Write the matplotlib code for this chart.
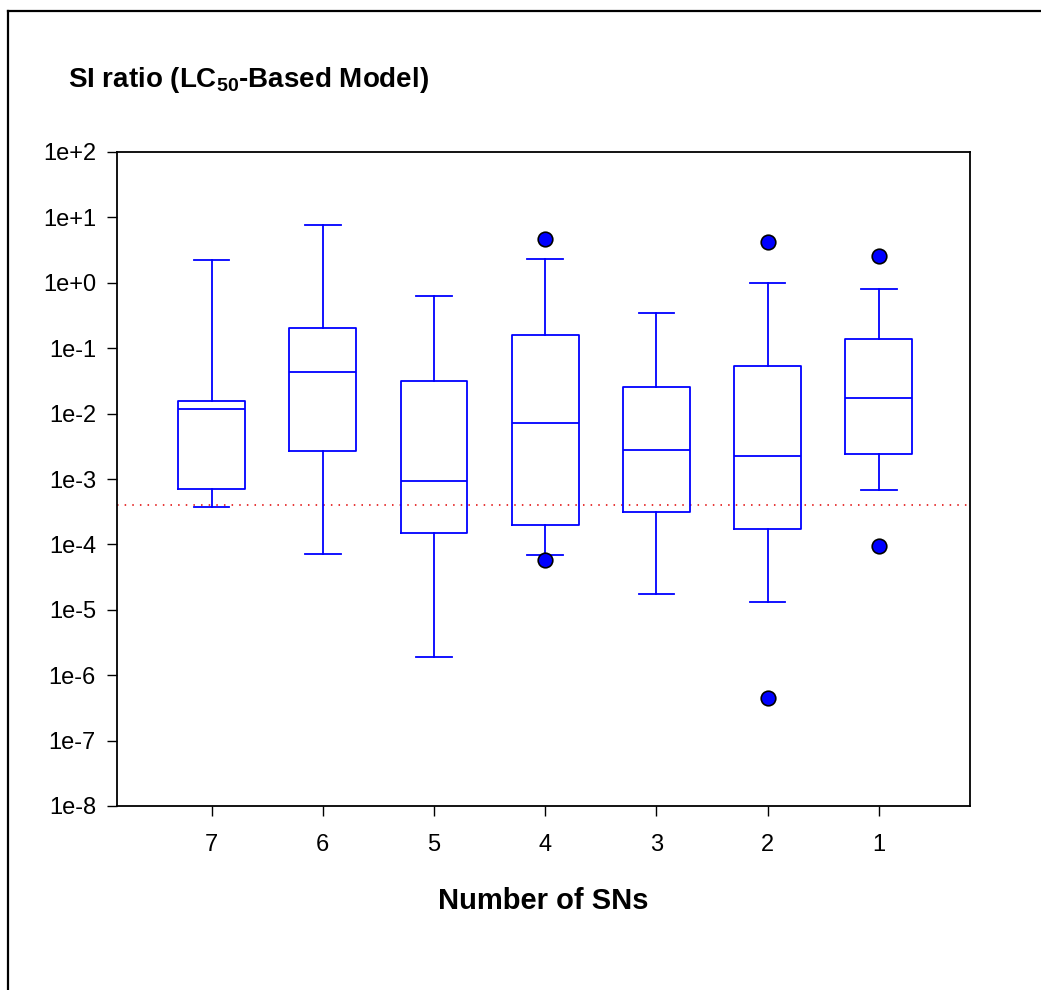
import matplotlib
matplotlib.use("Agg")
import matplotlib.pyplot as plt
from matplotlib.lines import Line2D

plt.rcParams['font.family'] = ['Liberation Sans', 'DejaVu Sans']
plt.rcParams['mathtext.fontset'] = 'custom'
plt.rcParams['mathtext.rm'] = 'Liberation Sans'
plt.rcParams['mathtext.bf'] = 'Liberation Sans:bold'

categories = ["7", "6", "5", "4", "3", "2", "1"]
whislo = [3.78e-4, 7.05e-5, 1.92e-6, 7.0e-5, 1.77e-5, 1.33e-5, 6.79e-4]
q1 = [6.95e-4, 2.71e-3, 1.51e-4, 2.0e-4, 3.13e-4, 1.74e-4, 2.42e-3]
med = [1.19e-2, 4.28e-2, 9.4e-4, 7.26e-3, 2.74e-3, 2.22e-3, 1.75e-2]
q3 = [1.56e-2, 2.01e-1, 3.18e-2, 1.59e-1, 2.58e-2, 5.4e-2, 1.38e-1]
whishi = [2.23, 7.65, 0.635, 2.29, 0.341, 0.99, 0.81]
fliers = [[], [], [], [4.73, 5.77e-5], [], [4.16, 4.43e-7], [2.6, 9.6e-5]]
threshold = 4.0e-4
ytick_vals = [1e-8, 1e-7, 1e-6, 1e-5, 1e-4, 1e-3, 1e-2, 1e-1, 1e0, 1e1, 1e2]
ytick_labels = ["1e-8", "1e-7", "1e-6", "1e-5", "1e-4", "1e-3", "1e-2", "1e-1", "1e+0", "1e+1", "1e+2"]

W, H = 1041, 990
fig = plt.figure(figsize=(W / 100, H / 100), dpi=100)
ax = fig.add_axes([117 / W, 1 - 806 / H, (970 - 117) / W, (806 - 152) / H])

stats = []
for i, c in enumerate(categories):
    stats.append(dict(label=c, whislo=whislo[i], q1=q1[i], med=med[i],
                      q3=q3[i], whishi=whishi[i], fliers=fliers[i]))

positions = list(range(1, len(categories) + 1))
blue = '#0000ff'
lw = 1.3
ax.bxp(stats, positions=positions, widths=0.6, capwidths=0.32,
       boxprops=dict(color=blue, linewidth=lw),
       medianprops=dict(color=blue, linewidth=lw),
       whiskerprops=dict(color=blue, linewidth=lw),
       capprops=dict(color=blue, linewidth=lw),
       flierprops=dict(marker='o', markerfacecolor=blue, markeredgecolor='black',
                       markersize=10.5, markeredgewidth=1.2, linestyle='none'))

ax.axhline(threshold, color='#e00000', linestyle=(0, (1, 4)), linewidth=1.1, zorder=0)

ax.set_yscale('log')
ax.set_ylim(1e-8, 1e2)
ax.set_xlim(0.15, 7.82)
ax.set_yticks(ytick_vals)
ax.set_yticklabels(ytick_labels)
ax.minorticks_off()
ax.set_xticks(positions)
ax.set_xticklabels(categories)
ax.tick_params(axis='both', direction='out', length=7.2, width=1.0, labelsize=17)
ax.tick_params(axis='y', pad=8)
ax.tick_params(axis='x', pad=13)
for s in ax.spines.values():
    s.set_linewidth(1.3)

ax.set_xlabel("Number of SNs", fontsize=21, fontweight='bold', labelpad=22)

fig.text(68 / W, 1 - 80 / H, r"SI ratio (LC$_{\mathbf{50}}$-Based Model)",
         fontsize=20, fontweight='bold', ha='left', va='center')

# figure frame (top and left edges visible)
fig.add_artist(Line2D([8 / W, 1.0], [1 - 11 / H, 1 - 11 / H], color='black', linewidth=1.6,
                      transform=fig.transFigure))
fig.add_artist(Line2D([8 / W, 8 / W], [1 - 11 / H, 0.0], color='black', linewidth=1.6,
                      transform=fig.transFigure))

fig.savefig("out.png", dpi=100)
